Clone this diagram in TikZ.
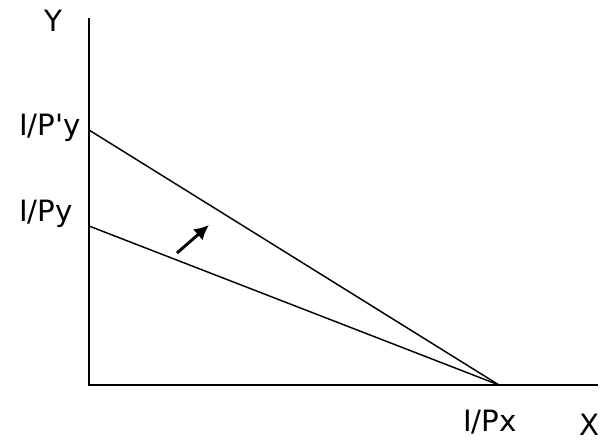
\documentclass[tikz,border=0pt]{standalone}
\usepackage{fontspec}
\setmainfont{DejaVu Sans}
\usepackage{tikz}
\usetikzlibrary{arrows.meta}

\begin{document}
\begin{tikzpicture}[x=0.75pt, y=-0.75pt, every node/.style={font=\fontsize{22}{26}\selectfont, inner sep=0pt}]
	\useasboundingbox (0,0) rectangle (606,441);
	% axes
	\coordinate (O) at (89,385);
	\coordinate (ytop) at (89,18);
	\coordinate (xend) at (598,385);
	\draw[line width=1.3pt] (ytop) -- (O) -- (xend);
	% intercepts
	\coordinate (py1) at (89,130);
	\coordinate (py0) at (89,226);
	\coordinate (px) at (499,385);
	\draw[line width=1.1pt] (py1) -- (px);
	\draw[line width=1.1pt] (py0) -- (px);
	% shift of the budget line
	\coordinate (a0) at (177,253);
	\coordinate (a1) at (209,225);
	\draw[line width=2.2pt, -{Latex[length=11pt, width=11pt]}] (a0) -- (a1);
	% labels
	\node[anchor=base] (ylab) at (53,32) {Y};
	\node[anchor=base] (py1lab) at (50,136) {I/P\textquotesingle y};
	\node[anchor=base] (py0lab) at (46,222) {I/Py};
	\node[anchor=base] (pxlab) at (490,431) {I/Px};
	\node[anchor=base] (xlab) at (590,435) {X};
\end{tikzpicture}
\end{document}
